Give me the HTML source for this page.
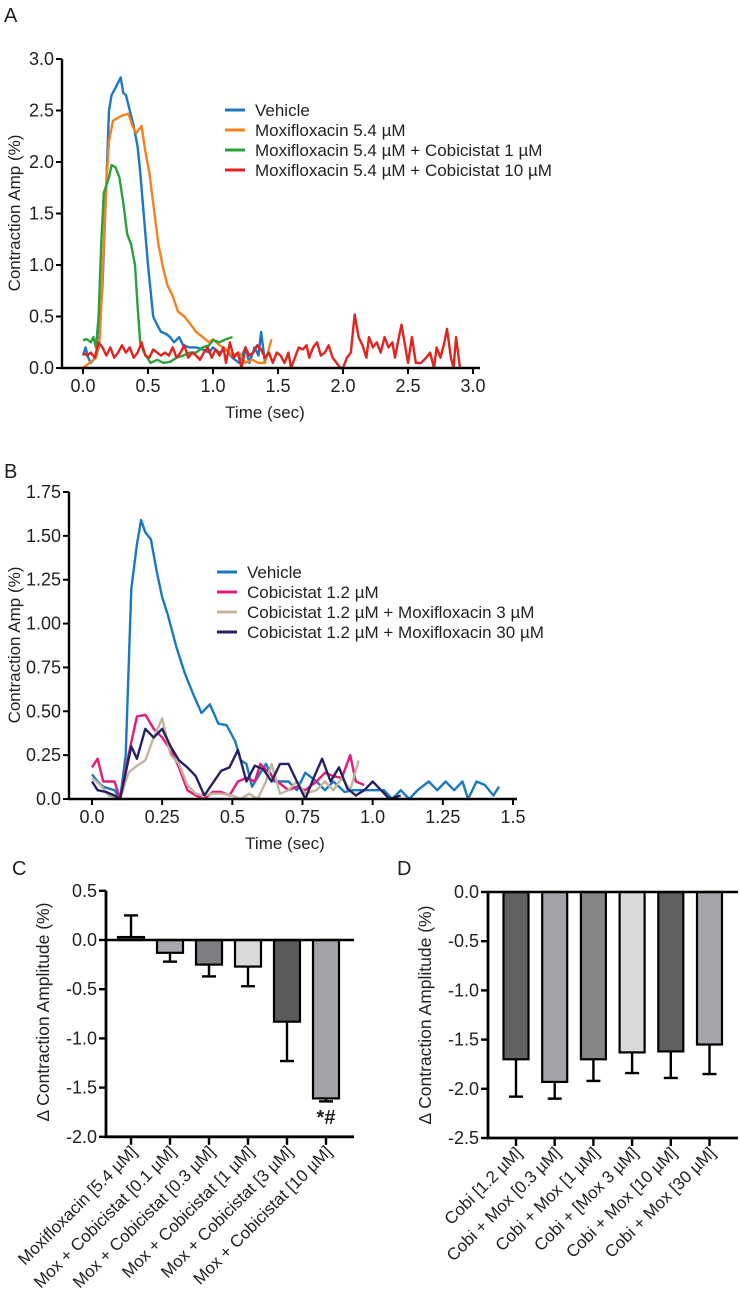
<!DOCTYPE html>
<html><head><meta charset="utf-8"><style>
body{margin:0;background:#fff;}
svg{display:block;font-family:"Liberation Sans",Arial,sans-serif;}
text{fill:#231f20;}
</style></head><body>
<svg id="fig" width="740" height="1315" viewBox="0 0 740 1315" xmlns="http://www.w3.org/2000/svg">
<rect width="740" height="1315" fill="#fff"/>
<text x="4" y="22" font-size="20">A</text>
<text x="4" y="478" font-size="20">B</text>
<text x="12" y="875" font-size="20">C</text>
<text x="397" y="875" font-size="20">D</text>
<g id="pa"></g>
<g id="pb"></g>
<g id="pc"></g>
<g id="pd"></g>
</svg>
<script>
// ---- Panel A data ----
const aTicksX = [0,0.5,1.0,1.5,2.0,2.5,3.0];
const aTickLabelsX = ["0.0","0.5","1.0","1.5","2.0","2.5","3.0"];
const aTicksY = [0,0.5,1,1.5,2,2.5,3];
const aTickLabelsY = ["0.0","0.5","1.0","1.5","2.0","2.5","3.0"];
const aNames = ["Vehicle","Moxifloxacin 5.4 µM","Moxifloxacin 5.4 µM + Cobicistat 1 µM","Moxifloxacin 5.4 µM + Cobicistat 10 µM"];
const aColors = ["#1f77c0","#f58220","#2ca03c","#e0241e"];
const aVehicle = [[0,0.12],[0.02,0.2],[0.04,0.1],[0.06,0.05],[0.08,0.08],[0.1,0.1],[0.12,0.2],[0.15,0.8],[0.18,1.8],[0.2,2.5],[0.22,2.65],[0.25,2.72],[0.29,2.82],[0.31,2.67],[0.33,2.65],[0.36,2.5],[0.39,2.35],[0.42,2.15],[0.44,1.9],[0.47,1.45],[0.5,1.0],[0.52,0.75],[0.54,0.5],[0.57,0.42],[0.6,0.35],[0.64,0.33],[0.67,0.3],[0.7,0.25],[0.74,0.3],[0.77,0.22],[0.82,0.2],[0.87,0.2],[0.92,0.18],[0.97,0.15],[1.0,0.2],[1.05,0.15],[1.1,0.18],[1.15,0.1],[1.2,0.05],[1.25,0.2],[1.28,0.05],[1.32,0.2],[1.35,0.12],[1.37,0.35],[1.4,0.05]];
const aMox = [[0,0.0],[0.05,0.05],[0.1,0.1],[0.13,0.3],[0.16,1.2],[0.18,1.8],[0.2,2.2],[0.23,2.4],[0.27,2.43],[0.3,2.45],[0.35,2.47],[0.38,2.35],[0.41,2.28],[0.45,2.35],[0.48,2.1],[0.51,1.9],[0.55,1.5],[0.58,1.2],[0.62,0.95],[0.65,0.8],[0.69,0.7],[0.73,0.55],[0.78,0.5],[0.83,0.42],[0.87,0.35],[0.92,0.3],[0.97,0.25],[1.0,0.28],[1.05,0.22],[1.1,0.18],[1.15,0.12],[1.2,0.15],[1.25,0.05],[1.3,0.08],[1.35,0.05],[1.4,0.05],[1.45,0.28]];
const aMoxCobi1 = [[0,0.27],[0.03,0.28],[0.06,0.25],[0.08,0.3],[0.1,0.2],[0.12,0.5],[0.14,1.2],[0.16,1.7],[0.2,1.85],[0.22,1.97],[0.25,1.95],[0.28,1.85],[0.31,1.6],[0.34,1.3],[0.37,1.2],[0.4,1.0],[0.42,0.6],[0.44,0.25],[0.47,0.15],[0.52,0.05],[0.57,0.08],[0.62,0.05],[0.67,0.06],[0.72,0.1],[0.77,0.12],[0.82,0.15],[0.87,0.15],[0.92,0.2],[0.97,0.22],[1.0,0.27],[1.05,0.25],[1.1,0.28],[1.15,0.3]];
const aMoxCobi10 = [[0,0.15],[0.03,0.12],[0.06,0.15],[0.09,0.1],[0.12,0.25],[0.15,0.2],[0.18,0.12],[0.21,0.2],[0.24,0.1],[0.27,0.15],[0.3,0.22],[0.33,0.15],[0.36,0.2],[0.39,0.1],[0.42,0.15],[0.45,0.25],[0.48,0.12],[0.51,0.1],[0.54,0.18],[0.57,0.15],[0.6,0.12],[0.63,0.15],[0.66,0.12],[0.69,0.2],[0.72,0.1],[0.75,0.15],[0.78,0.22],[0.81,0.1],[0.84,0.15],[0.87,0.12],[0.9,0.08],[0.93,0.15],[0.96,0.2],[0.99,0.1],[1.02,0.18],[1.05,0.12],[1.08,0.2],[1.1,0.05],[1.13,0.25],[1.16,0.1],[1.19,0.15],[1.22,0.0],[1.25,0.2],[1.28,0.12],[1.31,0.15],[1.34,0.22],[1.37,0.18],[1.4,0.1],[1.43,0.15],[1.46,0.05],[1.49,0.15],[1.52,0.12],[1.55,0.05],[1.58,0.15],[1.6,0.0],[1.63,0.1],[1.66,0.2],[1.69,0.18],[1.72,0.22],[1.74,0.1],[1.77,0.2],[1.8,0.25],[1.83,0.12],[1.86,0.15],[1.89,0.22],[1.92,0.1],[1.95,0.05],[1.98,0.0],[2.0,0.0],[2.03,0.1],[2.06,0.15],[2.09,0.52],[2.12,0.3],[2.15,0.22],[2.18,0.1],[2.2,0.3],[2.23,0.2],[2.26,0.25],[2.29,0.15],[2.32,0.3],[2.35,0.2],[2.38,0.25],[2.4,0.1],[2.43,0.3],[2.45,0.42],[2.48,0.2],[2.5,0.05],[2.53,0.3],[2.56,0.05],[2.6,0.05],[2.64,0.1],[2.67,0.15],[2.7,0.0],[2.72,0.2],[2.75,0.1],[2.78,0.25],[2.8,0.38],[2.83,0.1],[2.85,0.0],[2.87,0.3],[2.9,0.0]];

// ---- Panel B data ----
const bTicksX = [0,0.25,0.5,0.75,1.0,1.25,1.5];
const bTickLabelsX = ["0.0","0.25","0.5","0.75","1.0","1.25","1.5"];
const bTicksY = [0,0.25,0.5,0.75,1,1.25,1.5,1.75];
const bTickLabelsY = ["0.0","0.25","0.50","0.75","1.00","1.25","1.50","1.75"];
const bNames = ["Vehicle","Cobicistat 1.2 µM","Cobicistat 1.2 µM + Moxifloxacin 3 µM","Cobicistat 1.2 µM + Moxifloxacin 30 µM"];
const bColors = ["#1a7abf","#e6197a","#c2b59b","#262262"];
const bVehicle = [[0,0.14],[0.02,0.1],[0.04,0.07],[0.06,0.06],[0.08,0.05],[0.1,0.0],[0.12,0.25],[0.14,1.2],[0.16,1.45],[0.175,1.59],[0.19,1.52],[0.21,1.48],[0.23,1.3],[0.25,1.15],[0.27,1.05],[0.3,0.87],[0.33,0.72],[0.36,0.6],[0.39,0.49],[0.42,0.54],[0.45,0.43],[0.48,0.42],[0.51,0.33],[0.53,0.22],[0.55,0.2],[0.57,0.07],[0.6,0.15],[0.62,0.2],[0.65,0.1],[0.68,0.1],[0.7,0.1],[0.73,0.05],[0.76,0.15],[0.8,0.1],[0.83,0.05],[0.86,0.1],[0.9,0.04],[0.93,0.05],[0.96,0.05],[1.0,0.05],[1.04,0.05],[1.07,0.0],[1.1,0.05],[1.13,0.0],[1.16,0.05],[1.2,0.1],[1.23,0.05],[1.26,0.1],[1.29,0.05],[1.32,0.1],[1.34,0.0],[1.37,0.1],[1.4,0.08],[1.43,0.02],[1.45,0.07]];
const bCobi = [[0,0.18],[0.02,0.23],[0.04,0.1],[0.06,0.1],[0.08,0.1],[0.1,0.0],[0.13,0.25],[0.16,0.47],[0.19,0.48],[0.22,0.4],[0.25,0.35],[0.28,0.28],[0.31,0.18],[0.34,0.05],[0.37,0.02],[0.4,0.0],[0.43,0.04],[0.46,0.04],[0.49,0.02],[0.52,0.1],[0.55,0.12],[0.58,0.1],[0.6,0.2],[0.63,0.15],[0.66,0.1],[0.7,0.05],[0.73,0.07],[0.76,0.05],[0.8,0.1],[0.83,0.15],[0.86,0.13],[0.89,0.12],[0.92,0.25],[0.94,0.1],[0.97,0.08]];
const bCobiMox3 = [[0,0.12],[0.03,0.08],[0.06,0.02],[0.1,0.0],[0.13,0.15],[0.16,0.19],[0.19,0.22],[0.22,0.35],[0.25,0.46],[0.28,0.25],[0.31,0.2],[0.34,0.08],[0.37,0.03],[0.4,0.02],[0.43,0.03],[0.46,0.03],[0.5,0.02],[0.53,0.0],[0.56,0.03],[0.59,0.0],[0.62,0.1],[0.64,0.2],[0.67,0.03],[0.7,0.05],[0.73,0.1],[0.76,0.03],[0.8,0.05],[0.83,0.1],[0.86,0.05],[0.89,0.12],[0.92,0.05],[0.95,0.22]];
const bCobiMox30 = [[0,0.1],[0.02,0.05],[0.05,0.04],[0.08,0.02],[0.1,0.0],[0.14,0.3],[0.16,0.23],[0.19,0.4],[0.22,0.35],[0.25,0.4],[0.28,0.3],[0.31,0.22],[0.34,0.18],[0.37,0.13],[0.4,0.02],[0.43,0.09],[0.46,0.16],[0.49,0.18],[0.52,0.28],[0.55,0.1],[0.58,0.19],[0.61,0.17],[0.64,0.1],[0.67,0.2],[0.7,0.2],[0.73,0.1],[0.76,0.0],[0.79,0.12],[0.82,0.23],[0.85,0.1],[0.88,0.18],[0.91,0.06],[0.94,0.02],[0.97,0.05],[1.0,0.1],[1.03,0.05],[1.06,0.0],[1.1,0.02]];

// ---- Panel C data ----
const cCategories = ["Moxifloxacin [5.4 µM]","Mox + Cobicistat [0.1 µM]","Mox + Cobicistat [0.3 µM]","Mox + Cobicistat [1 µM]","Mox + Cobicistat [3 µM]","Mox + Cobicistat [10 µM]"];
const cMeans = [0.03,-0.13,-0.25,-0.27,-0.83,-1.61];
const cErrors = [0.22,0.09,0.12,0.2,0.4,0.03];
const cColors = ["#555559","#a7a7ad","#7e7e82","#d9d9d9","#5b5b5d","#a2a2a8"];
const cTicksY = [0.5,0,-0.5,-1,-1.5,-2];
const cTickLabelsY = ["0.5","0.0","-0.5","-1.0","-1.5","-2.0"];

// ---- Panel D data ----
const dCategories = ["Cobi [1.2 µM]","Cobi + Mox [0.3 µM]","Cobi + Mox [1 µM]","Cobi + [Mox 3 µM]","Cobi + Mox [10 µM]","Cobi + Mox [30 µM]"];
const dMeans = [-1.70,-1.93,-1.70,-1.63,-1.62,-1.55];
const dErrors = [0.38,0.17,0.22,0.21,0.27,0.30];
const dColors = ["#626264","#a2a2a8","#858587","#d9d9d9","#606062","#a4a4aa"];
const dTicksY = [0,-0.5,-1,-1.5,-2,-2.5];
const dTickLabelsY = ["0.0","-0.5","-1.0","-1.5","-2.0","-2.5"];

const NS = "http://www.w3.org/2000/svg";
function mk(parent, tag, attrs, txt){
  const e = document.createElementNS(NS, tag);
  for (const k in attrs) e.setAttribute(k, attrs[k]);
  if (txt !== undefined) e.textContent = txt;
  parent.appendChild(e);
  return e;
}
function lineChart(g, o){
  const sx = t => o.x0 + (t - o.tMin) / (o.tMax - o.tMin) * (o.x1 - o.x0);
  const sy = v => o.y0 - (v - o.vMin) / (o.vMax - o.vMin) * (o.y0 - o.y1);
  o.series.forEach((s, i) => {
    const p = mk(g, "polyline", {points: s.map(d => sx(d[0]).toFixed(1) + "," + sy(d[1]).toFixed(1)).join(" "), fill: "none", stroke: o.colors[i], "stroke-width": 2.4, "stroke-linejoin": "round"});
    
    
  });
  const ax = mk(g, "path", {d: `M${o.axL},${sy(o.vMax)} V${o.y0} H${o.axR}`, fill: "none", stroke: "#000", "stroke-width": 2.4});
  
  
  o.ticksY.forEach((v, i) => {
    mk(g, "line", {x1: o.axL - 6, x2: o.axL, y1: sy(v), y2: sy(v), stroke: "#000", "stroke-width": 2});
    const t = mk(g, "text", {x: o.axL - 8, y: sy(v) + 6, "text-anchor": "end", "font-size": 18}, o.labelsY[i]);
    
    
  });
  o.ticksX.forEach((v, i) => {
    mk(g, "line", {x1: sx(v), x2: sx(v), y1: o.y0, y2: o.y0 + 6, stroke: "#000", "stroke-width": 2});
    const t = mk(g, "text", {x: sx(v), y: o.y0 + 24, "text-anchor": "middle", "font-size": 18}, o.labelsX[i]);
    
    
  });
  const xt = mk(g, "text", {x: o.xtX, y: o.y0 + 50, "text-anchor": "middle", "font-size": 17}, "Time (sec)");
  
  
  const yt = mk(g, "text", {x: 0, y: 0, transform: `translate(${o.ytX},${o.ytY}) rotate(-90)`, "text-anchor": "middle", "font-size": 17}, "Contraction Amp (%)");
  
  
  o.names.forEach((n, i) => {
    const y = o.legY + i * 20;
    const lg = mk(g, "g", {});
    
    
    mk(lg, "line", {x1: o.legX, x2: o.legX + 20, y1: y, y2: y, stroke: o.colors[i], "stroke-width": 3});
    mk(lg, "text", {x: o.legX + 30, y: y + 6, "font-size": 17}, n);
  });
}
lineChart(document.getElementById("pa"), {
  x0: 83, x1: 473, tMin: 0, tMax: 3, y0: 368, y1: 59, vMin: 0, vMax: 3, axL: 62, axR: 480,
  series: [aVehicle, aMox, aMoxCobi1, aMoxCobi10], colors: aColors, names: aNames,
  ticksX: aTicksX, labelsX: aTickLabelsX, ticksY: aTicksY, labelsY: aTickLabelsY,
  xtX: 265, ytX: 20, ytY: 213, legX: 225, legY: 110
});
lineChart(document.getElementById("pb"), {
  x0: 92, x1: 513, tMin: 0, tMax: 1.5, y0: 799, y1: 492, vMin: 0, vMax: 1.75, axL: 69, axR: 517,
  series: [bVehicle, bCobi, bCobiMox3, bCobiMox30], colors: bColors, names: bNames,
  ticksX: bTicksX, labelsX: bTickLabelsX, ticksY: bTicksY, labelsY: bTickLabelsY,
  xtX: 285, ytX: 20, ytY: 645, legX: 217, legY: 572
});

function barChart(g, o){
  const sy = v => o.zeroY - v * o.ppu;
  const cx = i => o.c0 + i * o.step;
  o.means.forEach((m, i) => {
    const e = m >= 0 ? m + o.errs[i] : m - o.errs[i];
    const el = mk(g, "line", {x1: cx(i), x2: cx(i), y1: sy(m), y2: sy(e), stroke: "#000", "stroke-width": 2.4});
    
    
    mk(g, "line", {x1: cx(i) - 7, x2: cx(i) + 7, y1: sy(e), y2: sy(e), stroke: "#000", "stroke-width": 2.4});
    const top = Math.min(sy(0), sy(m)), h = Math.abs(sy(m) - sy(0));
    const b = mk(g, "rect", {x: cx(i) - o.bw / 2, y: top, width: o.bw, height: Math.max(h, 1), fill: o.colors[i], stroke: "#000", "stroke-width": 2.2});
    
    
  });
  const bottom = sy(o.ticks[o.ticks.length - 1]);
  mk(g, "line", {x1: o.axL, x2: o.axR, y1: sy(0), y2: sy(0), stroke: "#000", "stroke-width": 2.6});
  const ax = mk(g, "path", {d: `M${o.axL},${sy(o.ticks[0])} V${bottom} H${o.axR}`, fill: "none", stroke: "#000", "stroke-width": 2.8});
  
  
  o.ticks.forEach((v, i) => {
    mk(g, "line", {x1: o.axL - 7, x2: o.axL, y1: sy(v), y2: sy(v), stroke: "#000", "stroke-width": 2.4});
    const t = mk(g, "text", {x: o.axL - 9, y: sy(v) + 6, "text-anchor": "end", "font-size": 18}, o.tickLabels[i]);
    
    
  });
  o.cats.forEach((c, i) => {
    mk(g, "line", {x1: cx(i), x2: cx(i), y1: bottom, y2: bottom + 8, stroke: "#000", "stroke-width": 2.4});
    const t = mk(g, "text", {x: 0, y: 0, transform: `translate(${cx(i) + 7},${bottom + 16}) rotate(-45)`, "text-anchor": "end", "font-size": 17}, c);
    
    
  });
  const yt = mk(g, "text", {x: 0, y: 0, transform: `translate(${o.ytX},${o.ytY}) rotate(-90)`, "text-anchor": "middle", "font-size": 17.5}, "Δ Contraction Amplitude (%)");
  
  
}
barChart(document.getElementById("pc"), {
  zeroY: 940, ppu: 98.4, c0: 131, step: 39, bw: 26, axL: 106, axR: 354,
  means: cMeans, errs: cErrors, colors: cColors, cats: cCategories,
  ticks: cTicksY, tickLabels: cTickLabelsY, ytX: 49, ytY: 1012
});
barChart(document.getElementById("pd"), {
  zeroY: 892, ppu: 98.4, c0: 516, step: 38.7, bw: 25, axL: 488, axR: 738,
  means: dMeans, errs: dErrors, colors: dColors, cats: dCategories,
  ticks: dTicksY, tickLabels: dTickLabelsY, ytX: 431, ytY: 1015
});
const sig = mk(document.getElementById("pc"), "text", {x: 326, y: 1124, "text-anchor": "middle", "font-size": 20, "font-weight": "bold"}, "*#");


</script>
</body></html>
